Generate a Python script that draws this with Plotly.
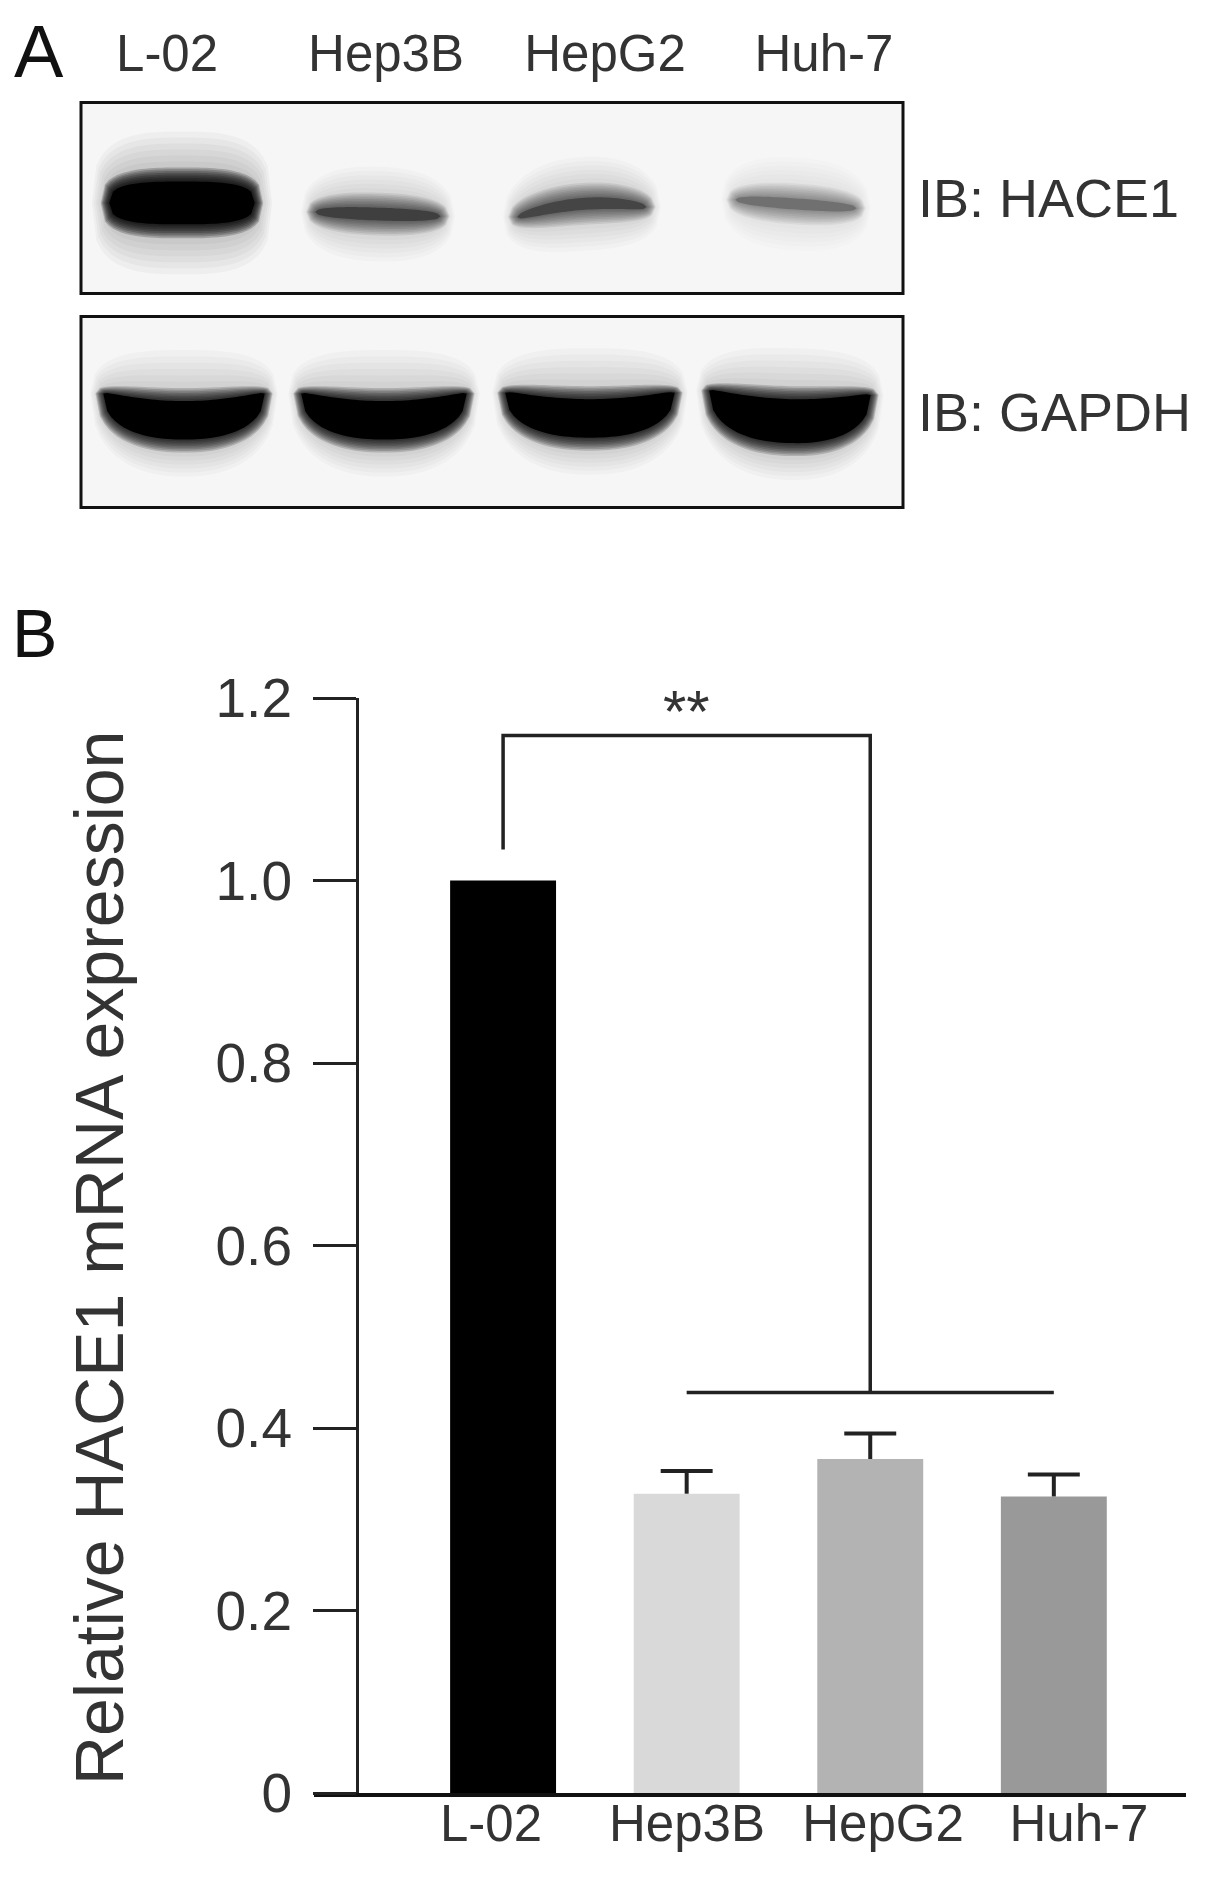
import numpy as np
import plotly.graph_objects as go

# reference canvas size; the page adds an 8px body margin, so the figure is inset
W, H = 1205, 1879
OFF = 8
FW, FH = W - 2 * OFF, H - 2 * OFF

# ---------------- data ----------------
# Panel A (western blot)
lanes = ["L-02", "Hep3B", "HepG2", "Huh-7"]
blot_rows = ["IB: HACE1", "IB: GAPDH"]
hace1_band = [1.0, 0.65, 0.62, 0.40]     # relative band density (estimated)
gapdh_band = [1.0, 1.0, 1.0, 1.0]

# Panel B (qPCR)
categories = ["L-02", "Hep3B", "HepG2", "Huh-7"]
expression = [1.0, 0.328, 0.366, 0.325]
sem = [0.0, 0.025, 0.028, 0.024]
y_ticks = [0, 0.2, 0.4, 0.6, 0.8, 1.0, 1.2]
y_ticklabels = ["0", "0.2", "0.4", "0.6", "0.8", "1.0", "1.2"]
bracket_top = 1.159
bracket_ref_end = 1.034
bracket_group = 0.439
significance = "**"
star_y = 1.196

# ---------------- styles ----------------
FONT = "Liberation Sans, Arial, Helvetica, sans-serif"
TXT = "#333333"
LINE = "#222222"
bar_colors = ["#000000", "#d9d9d9", "#b3b3b3", "#999999"]
XU, YU = 202.0, 214.0   # blot axis: pixels per unit (x, y)
BAR_W = 0.577
CAP = 0.1415


def px_x(p):
    return (p - OFF) / FW


def px_y(p):
    return 1 - (p - OFF) / FH


x_pos = list(range(len(categories)))
lane_pos = list(range(len(lanes)))

fig = go.Figure()

# ---------- Panel B ----------
fig.add_trace(go.Bar(
    x=x_pos, y=expression, width=BAR_W,
    marker=dict(color=bar_colors, line=dict(width=0)),
    xaxis="x", yaxis="y", showlegend=False, hoverinfo="skip",
))

# upper error whiskers with caps
ex, ey = [], []
for xi, v, e in zip(x_pos, expression, sem):
    if e <= 0:
        continue
    ex += [xi, xi, None, xi - CAP, xi + CAP, None]
    ey += [v, v + e, None, v + e, v + e, None]
fig.add_trace(go.Scatter(
    x=ex, y=ey, mode="lines", line=dict(color=LINE, width=4),
    xaxis="x", yaxis="y", showlegend=False, hoverinfo="skip", connectgaps=False,
))

# significance bracket
fig.add_trace(go.Scatter(
    x=[x_pos[0], x_pos[0], x_pos[2], x_pos[2]],
    y=[bracket_ref_end, bracket_top, bracket_top, bracket_group],
    mode="lines", line=dict(color=LINE, width=3.5), xaxis="x", yaxis="y",
    showlegend=False, hoverinfo="skip", cliponaxis=False,
))
fig.add_trace(go.Scatter(
    x=[x_pos[1], x_pos[3]], y=[bracket_group, bracket_group],
    mode="lines", line=dict(color=LINE, width=3.5), xaxis="x", yaxis="y",
    showlegend=False, hoverinfo="skip", cliponaxis=False,
))

# invisible traces to activate the blot axes and the label axes
fig.add_trace(go.Scatter(x=[0, 3], y=[0, 1], mode="markers", marker=dict(opacity=0),
                         xaxis="x2", yaxis="y2", showlegend=False, hoverinfo="skip"))
fig.add_trace(go.Scatter(x=[0], y=[0], mode="markers", marker=dict(opacity=0),
                         xaxis="x3", yaxis="y2", showlegend=False, hoverinfo="skip"))
fig.add_trace(go.Scatter(x=[0], y=[0], mode="markers", marker=dict(opacity=0),
                         xaxis="x4", yaxis="y", showlegend=False, hoverinfo="skip"))

# ---------- Panel A blot drawing ----------
shapes = []
row_pos = [1.0, 0.0]
box_half = 0.446
for r in row_pos:
    shapes.append(dict(type="rect", xref="x2 domain", yref="y2", x0=0, x1=1,
                       y0=r - box_half, y1=r + box_half,
                       fillcolor="#f6f6f6", line=dict(color="#111111", width=3)))


def band_path(cx, cy, hw, h_top, h_bot, p, tilt=0.0, bow=0.0, sag_top=0.0):
    u = np.linspace(-1, 1, 41)
    t = (1 - np.abs(u) ** p) ** (1 / p)
    mid = cy + tilt * u - bow * u ** 2
    top = mid + h_top * t - sag_top * (1 - u ** 2)
    bot = mid - h_bot * t
    xs = cx + hw * u
    pts = list(zip(xs, top)) + list(zip(xs[::-1], bot[::-1]))
    return "M" + " L".join(f"{a:.4f},{b:.4f}" for a, b in pts) + " Z"


def add_band(cx, cy, hw, h_top, h_bot, p, dens, tilt=0.0, bow=0.0, sag_top=0.0,
             soft=10, fog=30, fog_up=0, n_soft=8, n_fog=6, soft_a=0.11, fog_a=0.03,
             core_a=1.0):
    # faint fog
    for j in range(n_fog, 0, -1):
        d = soft + fog * j / n_fog
        du = soft + (fog + fog_up) * j / n_fog
        shapes.append(dict(type="path", xref="x2", yref="y2",
                           path=band_path(cx, cy, hw + d * 0.35 / XU, h_top + du / YU,
                                          h_bot + d / YU, p, tilt, bow, sag_top),
                           fillcolor="black", opacity=fog_a * dens, line=dict(width=0)))
    # soft edge
    for j in range(n_soft, 0, -1):
        d = soft * j / n_soft
        shapes.append(dict(type="path", xref="x2", yref="y2",
                           path=band_path(cx, cy, hw + d * 0.6 / XU, h_top + d / YU,
                                          h_bot + d / YU, p, tilt, bow, sag_top),
                           fillcolor="black", opacity=soft_a * dens, line=dict(width=0)))
    shapes.append(dict(type="path", xref="x2", yref="y2",
                       path=band_path(cx, cy, hw, h_top, h_bot, p, tilt, bow, sag_top),
                       fillcolor="black", opacity=min(1.0, dens * core_a), line=dict(width=0)))


# HACE1 row  (band shape parameters per lane)
hace_geom = [
    dict(cx=-0.02, cy=0.977, hw=0.36, h_top=0.10, h_bot=0.10, p=3.0, soft=14, fog=36, soft_a=0.2),
    dict(cx=0.95, cy=0.925, hw=0.31, h_top=0.030, h_bot=0.030, p=2.4, tilt=-0.01),
    dict(cx=1.96, cy=0.972, hw=0.32, h_top=0.028, h_bot=0.028, p=2.4, tilt=0.0235, bow=0.0375),
    dict(cx=3.02, cy=0.972, hw=0.30, h_top=0.026, h_bot=0.026, p=2.4, tilt=-0.02),
]
weak_style = dict(soft=15, fog=26, soft_a=0.12, n_soft=9, core_a=0.55)
for i, (d, g) in enumerate(zip(hace1_band, hace_geom)):
    if i == 0:
        add_band(dens=d, **g)
    else:
        add_band(dens=d, **g, **weak_style)

# GAPDH row
gapdh_geom = [
    dict(cx=-0.01, cy=0.086, hw=0.40, h_top=0.02, h_bot=0.215, p=2.3, sag_top=0.055),
    dict(cx=0.98, cy=0.086, hw=0.41, h_top=0.02, h_bot=0.215, p=2.3, sag_top=0.055),
    dict(cx=2.00, cy=0.090, hw=0.42, h_top=0.02, h_bot=0.21, p=2.3, sag_top=0.05),
    dict(cx=2.99, cy=0.090, hw=0.40, h_top=0.02, h_bot=0.235, p=2.3, sag_top=0.05, tilt=-0.01),
]
for d, g in zip(gapdh_band, gapdh_geom):
    add_band(dens=d, soft=13, fog=24, fog_up=14, soft_a=0.16, fog_a=0.025, **g)

# ---------- annotations ----------
annotations = [
    dict(text="A", x=px_x(12), y=px_y(52), xref="paper", yref="paper",
         xanchor="left", yanchor="middle", showarrow=False,
         font=dict(family=FONT, size=74, color="#111111")),
    dict(text="B", x=px_x(10), y=px_y(633), xref="paper", yref="paper",
         xanchor="left", yanchor="middle", showarrow=False,
         font=dict(family=FONT, size=68, color="#111111")),
    dict(text="Relative HACE1 mRNA expression", textangle=-90,
         x=px_x(99), y=px_y(1258), xref="paper", yref="paper",
         xanchor="center", yanchor="middle", showarrow=False,
         font=dict(family=FONT, size=68, color=TXT)),
    dict(text=significance, x=x_pos[1], y=star_y, xref="x", yref="y",
         xanchor="center", yanchor="middle", yshift=-10, showarrow=False,
         font=dict(family=FONT, size=60, color=TXT)),
]

fig.update_layout(
    template="none",
    width=FW, height=FH, autosize=False,
    margin=dict(l=0, r=0, t=0, b=0, pad=0),
    paper_bgcolor="white", plot_bgcolor="white",
    font=dict(family=FONT, color=TXT),
    showlegend=False,
    shapes=shapes,
    annotations=annotations,
    # bar chart axes (x carries the axis line, x4 carries the category labels)
    xaxis=dict(domain=[px_x(314), px_x(1186)], anchor="y", automargin=False,
               range=[-1.03, 3.72], tickvals=x_pos, showticklabels=False,
               showline=True, linewidth=4, linecolor="#111111",
               ticks="", showgrid=False, zeroline=False),
    xaxis4=dict(domain=[px_x(314), px_x(1186)], anchor="y", overlaying="x", side="bottom",
                automargin=False, range=[-0.903, 3.546], tickvals=x_pos, ticktext=categories,
                showline=False, ticks="", showgrid=False, zeroline=False,
                tickfont=dict(family=FONT, size=51, color=TXT), ticklabelstandoff=-4),
    yaxis=dict(domain=[px_y(1793), px_y(698)], anchor="free", position=px_x(357),
               range=[0, 1.2], tickvals=y_ticks, ticktext=y_ticklabels, automargin=False,
               ticks="outside", ticklen=43, tickwidth=3, tickcolor=LINE,
               showline=True, linewidth=3, linecolor=LINE, showgrid=False, zeroline=False,
               tickfont=dict(family=FONT, size=55, color=TXT), ticklabelstandoff=10),
    # blot axes (x2 for bands, x3 for lane labels)
    xaxis2=dict(domain=[px_x(81), px_x(903)], anchor="y2", automargin=False,
                range=[-0.52, 3.55], showticklabels=False,
                ticks="", showline=False, showgrid=False, zeroline=False),
    xaxis3=dict(domain=[px_x(81), px_x(903)], anchor="y2", overlaying="x2", side="top",
                automargin=False, range=[-0.393, 3.361], tickvals=lane_pos, ticktext=lanes,
                ticks="", showline=False, showgrid=False, zeroline=False,
                tickfont=dict(family=FONT, size=51, color=TXT), ticklabelstandoff=8),
    yaxis2=dict(domain=[px_y(520), px_y(90)], anchor="x2", side="right", automargin=False,
                range=[-0.5047, 1.5047], tickvals=row_pos, ticktext=blot_rows,
                ticks="", showline=False, showgrid=False, zeroline=False,
                tickfont=dict(family=FONT, size=54, color=TXT), ticklabelstandoff=14),
)

fig.write_html("out.html")
